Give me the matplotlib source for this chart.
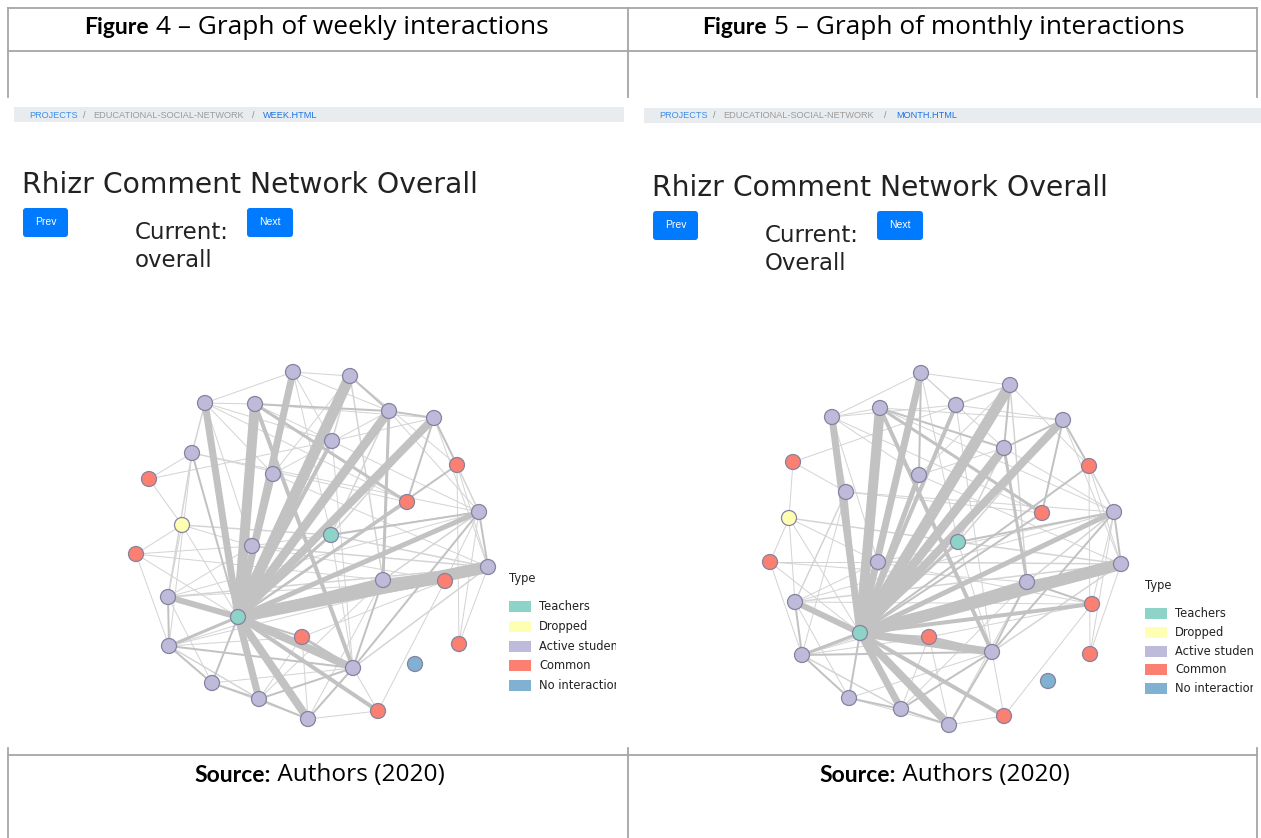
import matplotlib.pyplot as plt
from matplotlib.patches import Circle, Rectangle, FancyBboxPatch
from matplotlib.collections import LineCollection
from matplotlib.transforms import Bbox, TransformedBbox

plt.rcParams['font.family'] = ['DejaVu Sans']

W, H = 1261, 838

# node types, same network in both panels
node_type = ['A', 'A', 'A', 'A', 'A', 'A', 'A', 'A', 'C', 'A', 'C', 'C', 'A', 'D', 'T', 'C',
             'A', 'A', 'A', 'C', 'A', 'T', 'C', 'C', 'A', 'A', 'N', 'A', 'A', 'C', 'A']

# node layout
weekly_x = [293, 350, 205, 255, 389, 434, 332, 192, 149, 273, 457, 407, 479, 182, 331, 136,
            252, 488, 383, 445, 168, 238, 302, 459, 169, 353, 415, 212, 259, 378, 308]
weekly_y = [372, 376, 403, 404, 411, 418, 441, 453, 479, 474, 465, 502, 512, 525, 535, 554,
            546, 567, 580, 581, 597, 617, 637, 644, 646, 668, 664, 683, 699, 711, 719]

# node layout
monthly_x = [921, 1010, 832, 880, 1004, 1063, 956, 846, 793, 919, 1089, 1042, 1114, 789, 958, 770,
             878, 1121, 1027, 1092, 795, 860, 929, 1090, 802, 992, 1048, 849, 901, 1004, 949]
monthly_y = [373, 385, 417, 408, 448, 420, 405, 492, 462, 475, 466, 513, 512, 518, 542, 562,
             562, 564, 582, 604, 602, 633, 637, 654, 655, 652, 681, 698, 709, 716, 725]

# (source, target, stroke width in px)
edges = [
    (21, 0, 7), (21, 1, 11), (21, 2, 7), (21, 3, 10), (21, 4, 9), (21, 5, 8), (21, 6, 4),
    (21, 9, 5), (21, 12, 5), (21, 17, 12), (21, 18, 5), (21, 19, 4), (21, 20, 6), (21, 25, 8),
    (21, 28, 7), (21, 30, 8), (21, 29, 4), (21, 16, 3), (21, 14, 3), (21, 22, 2), (21, 24, 3),
    (21, 11, 2), (21, 10, 2), (21, 27, 2), (21, 15, 1), (21, 13, 1), (21, 7, 2),
    (3, 25, 4), (3, 11, 3), (4, 18, 3), (0, 9, 2), (2, 3, 1), (0, 1, 1), (0, 2, 1), (1, 4, 2),
    (3, 4, 2), (4, 5, 2), (5, 10, 2), (5, 11, 2), (10, 12, 1.5), (12, 17, 2), (12, 18, 1.5),
    (17, 18, 2), (17, 23, 1), (18, 19, 2), (18, 25, 2), (22, 25, 3), (12, 25, 2), (17, 25, 1.5),
    (25, 29, 1), (25, 30, 2), (25, 28, 2), (28, 30, 2), (27, 28, 2), (24, 27, 2), (24, 25, 2),
    (24, 28, 1.5), (20, 24, 2), (7, 20, 1.5), (2, 7, 1.5), (7, 8, 1), (8, 13, 1), (13, 15, 1),
    (15, 16, 1), (13, 14, 1.5), (14, 12, 2), (14, 17, 1.5), (14, 4, 1.5), (14, 5, 1.5),
    (16, 17, 1.5), (9, 2, 1), (9, 4, 1), (6, 1, 1.5), (6, 5, 1), (0, 4, 1), (2, 6, 1), (7, 12, 1),
    (7, 11, 1), (20, 17, 1.5), (24, 17, 1), (27, 25, 1), (30, 18, 1), (29, 19, 1), (23, 12, 1),
    (10, 23, 1), (19, 12, 1), (10, 17, 1), (1, 18, 1.5), (3, 5, 1), (0, 6, 1), (2, 16, 1),
    (20, 16, 1), (24, 22, 1), (27, 30, 1), (20, 27, 1), (15, 18, 1), (8, 6, 1), (13, 16, 1),
    (1, 9, 1), (3, 12, 1), (2, 11, 1), (9, 17, 1), (16, 12, 1), (20, 12, 1), (24, 18, 1),
    (28, 18, 1), (30, 22, 1), (14, 25, 1), (6, 25, 1), (5, 17, 1), (4, 12, 1), (1, 10, 1),
    (13, 20, 1), (15, 24, 1), (7, 24, 1), (0, 14, 1), (16, 19, 1), (20, 19, 1), (22, 19, 1),
    (29, 30, 1), (28, 22, 1),
]

legend_labels = ['Teachers', 'Dropped', 'Active students', 'Common', 'No interaction']
legend_keys = ['T', 'D', 'A', 'C', 'N']
type_colors = {'T': '#8dd3c7', 'D': '#ffffb3', 'A': '#bebada', 'C': '#fb8072', 'N': '#80b1d3'}

fig = plt.figure(figsize=(W / 100, H / 100), dpi=100)
ax = fig.add_axes([0, 0, 1, 1])
ax.set_xlim(0, W)
ax.set_ylim(H, 0)
ax.axis('off')

border = '#a6a6a6'
blue = '#007bff'


def draw_network(xs, ys):
    segs, widths, cols = [], [], []
    for s, t, w in sorted(edges, key=lambda e: e[2]):
        segs.append([(xs[s], ys[s]), (xs[t], ys[t])])
        widths.append(w * 0.72)
        cols.append('#c2c2c2' if w > 1.5 else '#d4d4d4')
    ax.add_collection(LineCollection(segs, linewidths=widths, colors=cols, zorder=2,
                                     capstyle='butt'))
    for x, y, t in zip(xs, ys, node_type):
        ax.add_patch(Circle((x, y), 7.5, facecolor=type_colors[t], edgecolor='#85839f',
                            linewidth=0.9, zorder=3))


def draw_legend(x0, y_type, y_rows, clip_x):
    ax.text(x0, y_type, 'Type', fontsize=8.3, va='center', ha='left', color='#222')
    # the screenshot cuts the legend labels at its right edge
    clip = TransformedBbox(Bbox([[x0, y_rows[0] - 12], [clip_x, y_rows[-1] + 12]]), ax.transData)
    for key, lab, y in zip(legend_keys, legend_labels, y_rows):
        ax.add_patch(Rectangle((x0, y - 5.5), 22, 11, facecolor=type_colors[key],
                               edgecolor='none', zorder=3))
        t = ax.text(x0 + 30, y, lab, fontsize=8.3, va='center', ha='left', color='#222')
        t.set_clip_box(clip)
        t.set_clip_on(True)


def draw_button(x0, y0, w, h, label):
    ax.add_patch(FancyBboxPatch((x0, y0), w, h, boxstyle='round,pad=0,rounding_size=3',
                                facecolor=blue, edgecolor='none', zorder=3))
    ax.text(x0 + w / 2, y0 + h / 2 - 1, label, color='white', fontsize=7.5,
            family=['Liberation Sans', 'DejaVu Sans'], ha='center', va='center', zorder=4)


def draw_breadcrumb(x0, x1, y, page, xs):
    ax.add_patch(Rectangle((x0, y - 7.5), x1 - x0, 15, facecolor='#e9ecef', edgecolor='none'))
    parts = ['PROJECTS', '/', 'EDUCATIONAL-SOCIAL-NETWORK', '/', page]
    cols = ['#3d8ee8', '#8a8a8a', '#9a9a9a', '#8a8a8a', '#1a73e8']
    for txt, c, x in zip(parts, cols, xs):
        ax.text(x, y, txt, fontsize=6.6, color=c, va='center', ha='left',
                family=['Liberation Sans', 'DejaVu Sans'])


def draw_page(dx, dy, current, page, crumb_x, crumb_x1):
    draw_breadcrumb(14 + dx, crumb_x1, 115 + dy * 0.2, page, crumb_x)
    ax.text(22 + dx, 185 + dy, 'Rhizr Comment Network Overall', fontsize=20.3,
            color='#222', va='center', ha='left')
    draw_button(23 + dx, 208 + dy, 45, 29, 'Prev')
    draw_button(247 + dx, 208 + dy, 46, 29, 'Next')
    ax.text(135 + dx, 232 + dy, 'Current:', fontsize=16.5, color='#222', va='center')
    ax.text(135 + dx, 260 + dy, current, fontsize=16.5, color='#222', va='center')


# table frame
for y in (8, 51, 755):
    ax.plot([8, 1257], [y, y], color=border, lw=1.3, zorder=1)
for x in (8, 628, 1257):
    ax.plot([x, x], [8, 97], color=border, lw=1.3, zorder=1)
    ax.plot([x, x], [748, 838], color=border, lw=1.3, zorder=1)

# captions: bold lead word + regular remainder
bold_font = dict(family=['Lato', 'DejaVu Sans'], weight='bold', fontsize=16.5, va='center',
                 ha='right', color='black')
reg_font = dict(family=['Open Sans', 'DejaVu Sans'], va='center', ha='left', color='black')
ax.text(149, 28, 'Figure', **bold_font)
ax.text(149, 28, ' 4 \u2013 Graph of weekly interactions', fontsize=18.9, **reg_font)
ax.text(767, 28, 'Figure', **bold_font)
ax.text(767, 28, ' 5 \u2013 Graph of monthly interactions', fontsize=18.9, **reg_font)
ax.text(271, 775, 'Source:', **bold_font)
ax.text(271, 775, ' Authors (2020)', fontsize=17.6, **reg_font)
ax.text(896, 775, 'Source:', **bold_font)
ax.text(896, 775, ' Authors (2020)', fontsize=17.6, **reg_font)

# left screenshot (weekly)
draw_page(0, 0, 'overall', 'WEEK.HTML', [29, 83, 93, 252, 263], 624)
draw_network(weekly_x, weekly_y)
draw_legend(509, 578, [606, 626, 646, 665, 685], 616)

# right screenshot (monthly)
draw_page(630, 3, 'Overall', 'MONTH.HTML', [659, 713, 723, 884, 896], W)
draw_network(monthly_x, monthly_y)
draw_legend(1145, 585, [613, 632, 651, 669, 688], 1253)

fig.savefig('out.png', dpi=100)
